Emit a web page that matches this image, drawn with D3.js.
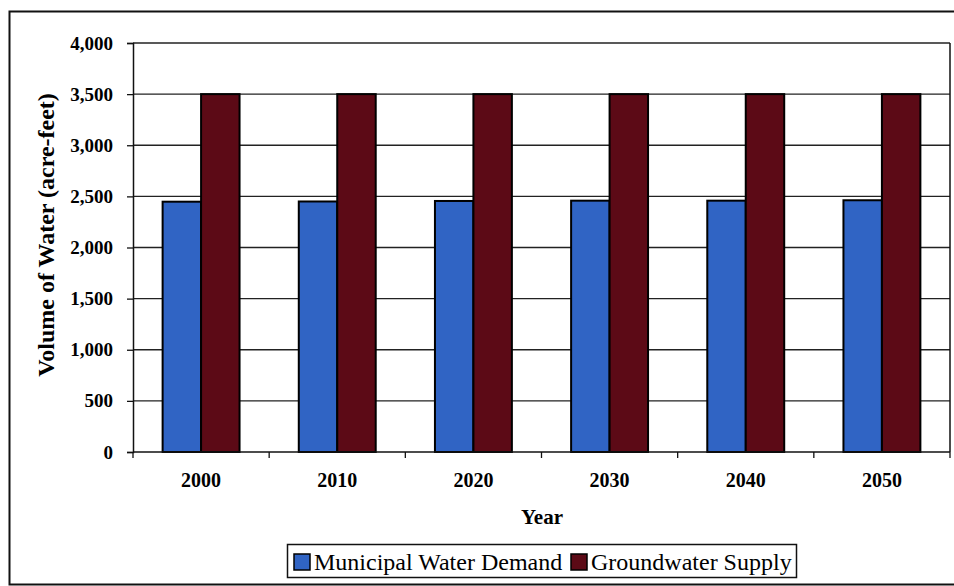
<!DOCTYPE html>
<html>
<head>
<meta charset="utf-8">
<script src="https://cdn.jsdelivr.net/npm/d3@7"></script>
<style>
  html, body { margin: 0; padding: 0; background: #fff; }
  svg { display: block; font-family: "Liberation Serif", "Times New Roman", serif; }
</style>
</head>
<body>
<svg id="chart" width="954" height="586"></svg>
<script>
// Municipal demand vs. groundwater supply, acre-feet per decade
const years = ["2000", "2010", "2020", "2030", "2040", "2050"];
const municipalDemand = [2448, 2450, 2455, 2458, 2458, 2462];
const groundwaterSupply = [3500, 3500, 3500, 3500, 3500, 3500];
const seriesNames = ["Municipal Water Demand", "Groundwater Supply"];
const seriesColors = ["#3064c4", "#5c0a16"];
const yTicks = [0, 500, 1000, 1500, 2000, 2500, 3000, 3500, 4000];

const serif = "Liberation Serif, Times New Roman, serif";
const svg = d3.select("#chart");
const plot = { left: 133, right: 950, top: 43, bottom: 452 };

// outer frame
svg.append("rect")
  .attr("x", 9.5).attr("y", 11.5)
  .attr("width", 950).attr("height", 573)
  .attr("fill", "none").attr("stroke", "#111").attr("stroke-width", 2);

const x0 = d3.scaleBand().domain(years)
  .range([plot.left, plot.right])
  .paddingInner(0.435).paddingOuter(0.2175);
const x1 = d3.scaleBand().domain(d3.range(seriesNames.length))
  .range([0, x0.bandwidth()]);
const y = d3.scaleLinear().domain([0, 4000]).range([plot.bottom, plot.top]);

// horizontal gridlines
svg.append("g")
  .selectAll("line")
  .data(yTicks.slice(1))
  .join("line")
  .attr("x1", plot.left).attr("x2", plot.right)
  .attr("y1", d => y(d)).attr("y2", d => y(d))
  .attr("stroke", "#222").attr("stroke-width", 1.3);

// right edge of plot area
svg.append("line")
  .attr("x1", plot.right).attr("x2", plot.right)
  .attr("y1", plot.top).attr("y2", plot.bottom)
  .attr("stroke", "#111").attr("stroke-width", 1.5);

// bars
const rows = years.map((yr, i) => ({ yr, vals: [municipalDemand[i], groundwaterSupply[i]] }));
const groups = svg.append("g").selectAll("g")
  .data(rows).join("g")
  .attr("transform", d => `translate(${x0(d.yr)},0)`);
groups.selectAll("rect")
  .data(d => d.vals.map((v, k) => ({ v, k })))
  .join("rect")
  .attr("x", d => x1(d.k))
  .attr("y", d => y(d.v))
  .attr("width", x1.bandwidth())
  .attr("height", d => y(0) - y(d.v))
  .attr("fill", d => seriesColors[d.k])
  .attr("stroke", "#000").attr("stroke-width", 2);

// y axis
const yAxis = svg.append("g")
  .attr("transform", `translate(${plot.left},0)`)
  .call(d3.axisLeft(y).tickValues(yTicks).tickSize(6).tickPadding(14)
    .tickFormat(d3.format(",")));
yAxis.attr("font-family", serif);
yAxis.select(".domain").attr("stroke", "#111").attr("stroke-width", 1.5);
yAxis.selectAll(".tick line").attr("stroke", "#111").attr("stroke-width", 1.3);
yAxis.selectAll("text")
  .attr("font-family", serif)
  .attr("font-size", 19).attr("font-weight", "bold").attr("fill", "#000");

// x axis: ticks at category boundaries
const xAxisG = svg.append("g");
xAxisG.append("line")
  .attr("x1", plot.left).attr("x2", plot.right)
  .attr("y1", plot.bottom).attr("y2", plot.bottom)
  .attr("stroke", "#111").attr("stroke-width", 1.5);
const step = x0.step();
xAxisG.selectAll("line.bt")
  .data(d3.range(years.length + 1))
  .join("line").attr("class", "bt")
  .attr("x1", i => plot.left + i * step).attr("x2", i => plot.left + i * step)
  .attr("y1", plot.bottom).attr("y2", plot.bottom + 6)
  .attr("stroke", "#111").attr("stroke-width", 1.3);
xAxisG.selectAll("text")
  .data(years).join("text")
  .attr("x", d => x0(d) + x0.bandwidth() / 2)
  .attr("y", 487)
  .attr("text-anchor", "middle")
  .attr("font-family", serif)
  .attr("font-size", 20).attr("font-weight", "bold")
  .text(d => d);

// axis titles
svg.append("text")
  .attr("x", 542).attr("y", 524)
  .attr("text-anchor", "middle")
  .attr("font-family", serif)
  .attr("font-size", 21).attr("font-weight", "bold")
  .text("Year");
svg.append("text")
  .attr("transform", "translate(54,235) rotate(-90)")
  .attr("text-anchor", "middle")
  .attr("font-family", serif)
  .attr("font-size", 24).attr("font-weight", "bold")
  .text("Volume of Water (acre-feet)");

// legend
const legend = svg.append("g");
legend.append("rect")
  .attr("x", 287.5).attr("y", 544.5).attr("width", 509).attr("height", 33)
  .attr("fill", "#fff").attr("stroke", "#111").attr("stroke-width", 1.5);
const legendX = [294, 571];
seriesNames.forEach((name, k) => {
  legend.append("rect")
    .attr("x", legendX[k]).attr("y", 554).attr("width", 16).attr("height", 16)
    .attr("fill", seriesColors[k]).attr("stroke", "#000").attr("stroke-width", 1.5);
  legend.append("text")
    .attr("x", legendX[k] + 20).attr("y", 570)
    .attr("font-family", serif)
    .attr("font-size", 24)
    .text(name);
});
</script>
</body>
</html>
